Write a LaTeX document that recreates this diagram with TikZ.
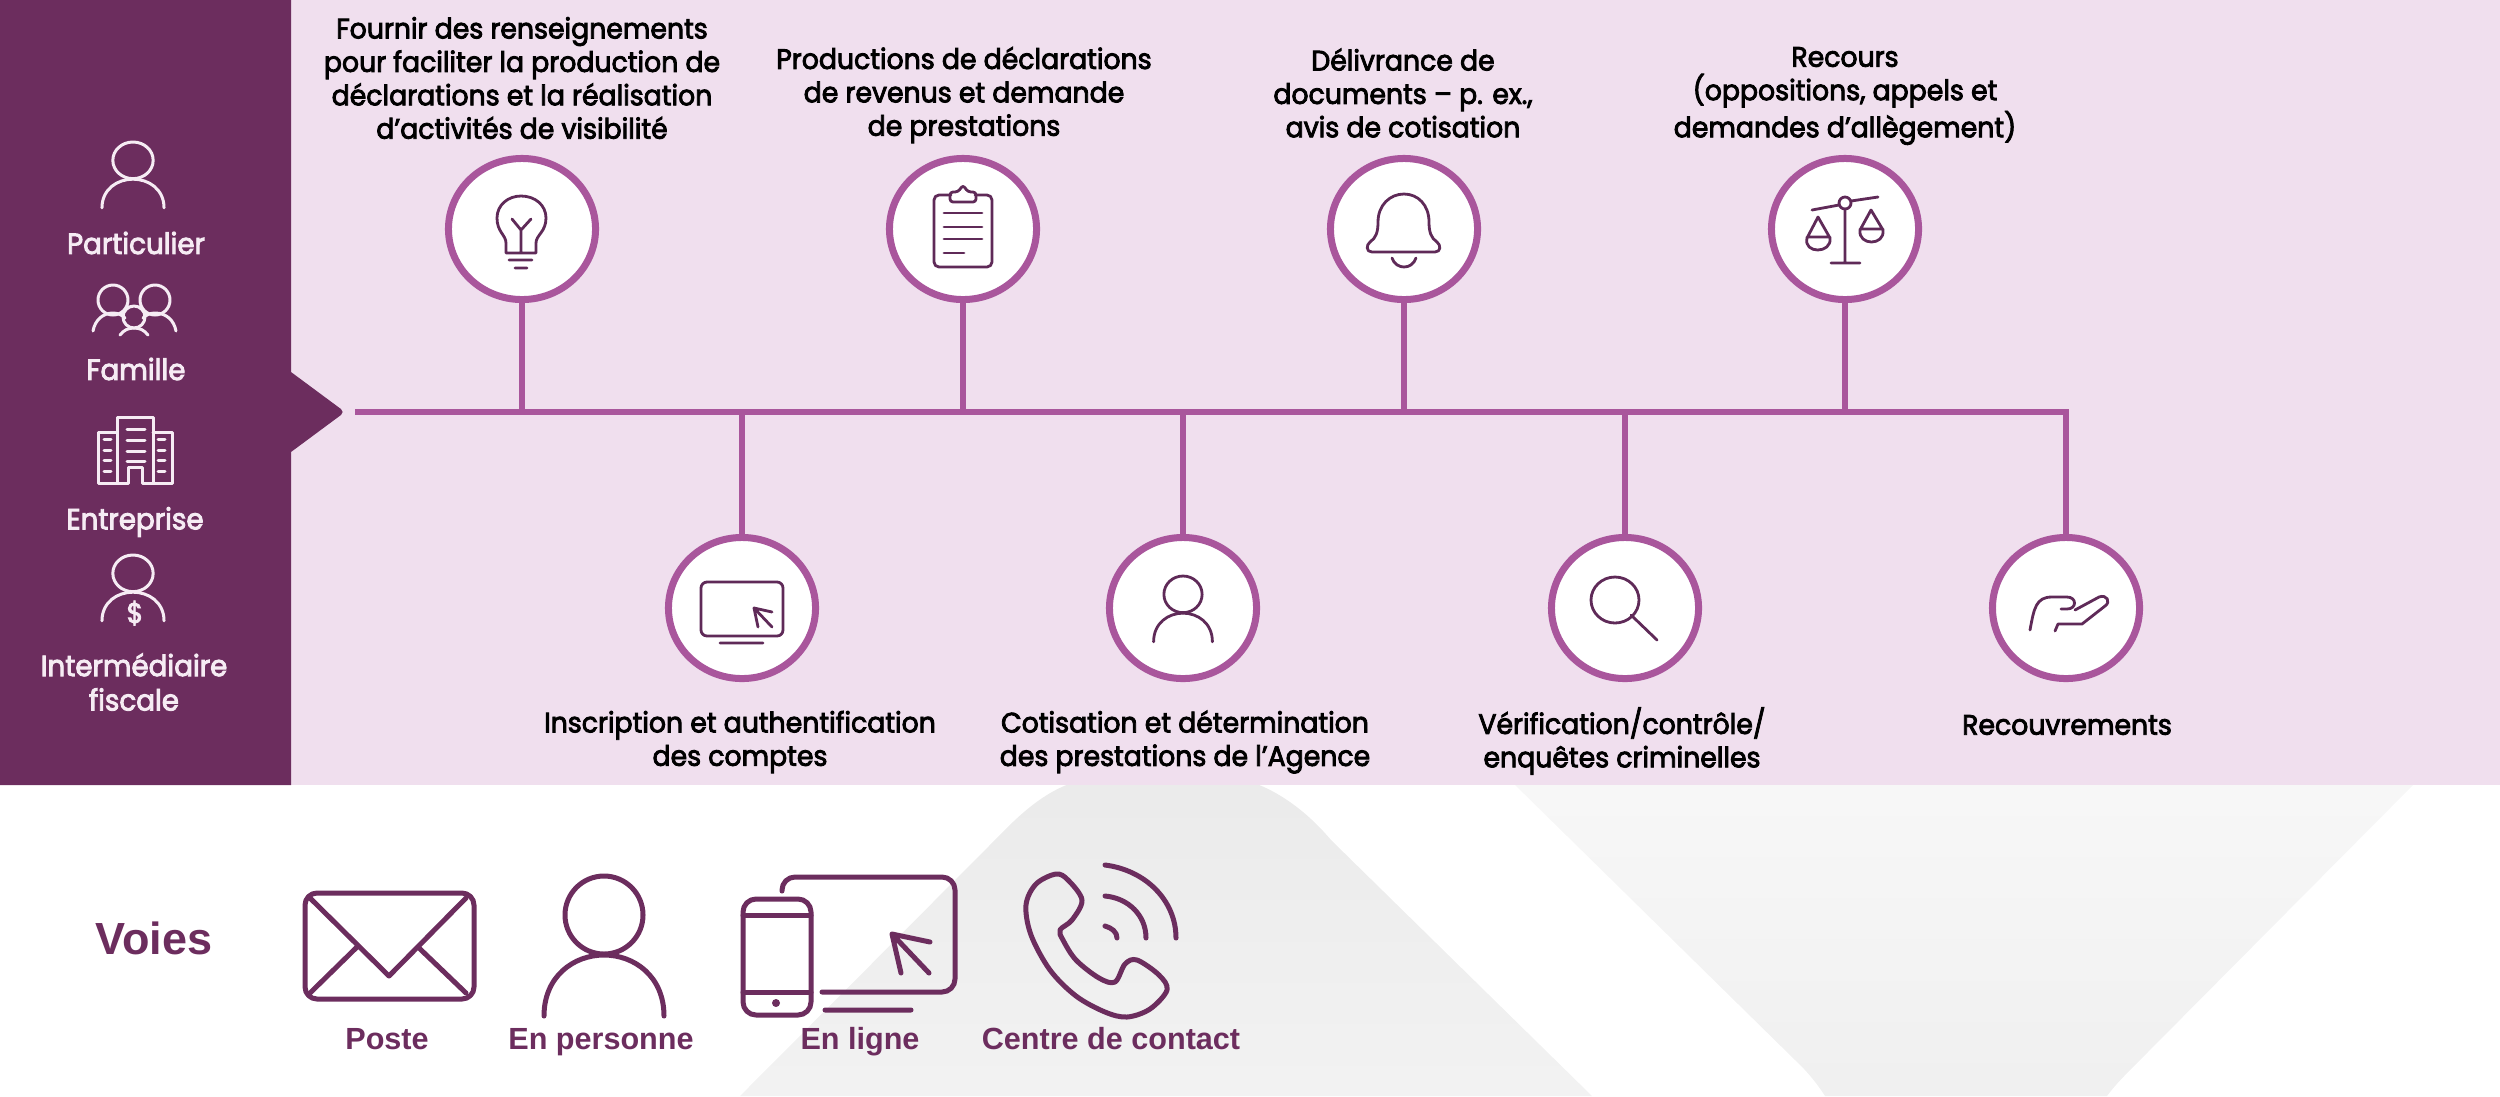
\documentclass[tikz,border=0pt]{standalone}
\usepackage{fontspec}
\setmainfont{Poppins}[FakeStretch=0.95,FakeBold=3]
\newfontfamily\labelfont{Liberation Sans}[BoldFont={Liberation Sans Bold}]
\usetikzlibrary{shapes.geometric}
\definecolor{panelcol}{HTML}{6C2D5E}
\definecolor{bandcol}{HTML}{F0DFEE}
\definecolor{linecol}{HTML}{A9569C}
\definecolor{inkcol}{HTML}{5F2A58}
\definecolor{softwhite}{HTML}{F6ECF4}
\tikzset{
  stepring/.style={ellipse,draw=linecol,fill=white,line width=0.07cm,minimum width=1.47cm,minimum height=1.41cm,inner sep=0pt},
  spine/.style={draw=linecol,line width=0.065cm},
  steptext/.style={font=\fontsize{8}{9.5}\selectfont,align=center,text=black,inner sep=0pt},
  clienttext/.style={font=\fontsize{8.3}{9.8}\selectfont,align=center,text=softwhite,inner sep=0pt},
  channeltext/.style={font=\labelfont\bfseries\fontsize{8.7}{10}\selectfont,text=panelcol,inner sep=0pt,anchor=base},
  lighticon/.style={draw=softwhite,line width=0.03cm,line cap=round,line join=round},
  darkicon/.style={draw=inkcol,line width=0.028cm,line cap=round,line join=round},
  bigicon/.style={draw=panelcol,line width=0.05cm,line cap=round,line join=round},
  personicon/.pic={
    \draw (0,39) ellipse (39 and 39);
    \draw (-60,140) .. controls (-60,100) and (-30,79) .. (0,79) .. controls (30,79) and (60,100) .. (60,140);
  }
}
\begin{document}
\begin{tikzpicture}[x=0.01cm,y=-0.01cm]
 \useasboundingbox (0,0) rectangle (2500,1096);

 \shade[top color=black!8,bottom color=black!5] (740,1096) -- (985,850) .. controls (1010,825) and (1040,790) .. (1082,780) -- (1245,780) .. controls (1280,790) and (1310,815) .. (1331,840) -- (1592,1096) -- cycle;
 \shade[top color=black!3,bottom color=black!6] (1510,780) -- (2418,780) -- (2140,1060) .. controls (2125,1075) and (2115,1085) .. (2107,1096) -- (1825,1096) .. controls (1818,1085) and (1808,1072) .. (1795,1060) -- cycle;
 \fill[bandcol] (291,0) rectangle (2500,785);
 \fill[panelcol] (0,0) -- (291,0) -- (291,372) [rounded corners=0.05cm] -- (345,412) [sharp corners] -- (291,452) -- (291,785) -- (0,785) -- cycle;

 \coordinate (start) at (355,412);
 \node[stepring] (info) at (522,229) {};
 \node[stepring] (prod) at (963,229) {};
 \node[stepring] (doc) at (1404,229) {};
 \node[stepring] (rec) at (1845,229) {};
 \node[stepring] (insc) at (742,608) {};
 \node[stepring] (cot) at (1183,608) {};
 \node[stepring] (ver) at (1625,608) {};
 \node[stepring] (recv) at (2066,608) {};
 \draw[spine] (start) -- (recv |- start) -- (recv);
 \foreach \n in {info,prod,doc,rec,insc,cot,ver}
  \draw[spine] (\n) -- (\n |- start);

 \node[steptext] (infot) at (522,78) {Fournir des renseignements\\pour faciliter la production de\\déclarations et la réalisation\\d’activités de visibilité};
 \node[steptext] (prodt) at (964,95) {Productions de déclarations\\de revenus et demande\\de prestations};
 \node[steptext] (doct) at (1403,93) {Délivrance de\\documents – p. ex.,\\avis de cotisation};
 \node[steptext] (rect) at (1845,96) {Recours\\(oppositions, appels et\\demandes d’allègement)};
 \node[steptext] (insct) at (740,742) {Inscription et authentification\\des comptes};
 \node[steptext] (cott) at (1185,742) {Cotisation et détermination\\des prestations de l’Agence};
 \node[steptext] (vert) at (1622,741) {Vérification/contrôle/\\enquêtes criminelles};
 \node[steptext] (recvt) at (2067,725) {Recouvrements};

 \draw[darkicon] (506,253) -- (506,243) .. controls (506,235) and (497,232) .. (497,218) .. controls (497,205) and (508,196) .. (521,196) .. controls (535,196) and (546,205) .. (546,218) .. controls (546,232) and (536,235) .. (536,243) -- (536,253) -- cycle
 (512,219) -- (521,230) -- (531,219) (521,230) -- (521,253)
 (509,260) -- (532,260) (515,268) -- (527,268);
 \draw[darkicon,rounded corners=0.05cm] (951,195) -- (934,195) -- (934,267) -- (992,267) -- (992,195) -- (975,195);
 \draw[darkicon,rounded corners=0.03cm] (950,202) -- (950,192) -- (958,192) -- (963,185) -- (968,192) -- (976,192) -- (976,202) -- cycle;
 \draw[darkicon] (944,213) -- (982,213) (944,227) -- (982,227) (944,239) -- (982,239) (944,253) -- (964,253);
 \draw[darkicon] (1372,252) .. controls (1366,252) and (1366,245) .. (1370,242) .. controls (1376,238) and (1378,232) .. (1378,222) .. controls (1378,205) and (1390,194) .. (1404,194) .. controls (1418,194) and (1429,205) .. (1429,222) .. controls (1429,232) and (1431,238) .. (1437,242) .. controls (1441,245) and (1441,252) .. (1435,252) -- cycle
 (1392,258) .. controls (1396,270) and (1412,270) .. (1416,258);
 \draw[darkicon] (1812,210) -- (1839,205) (1851,201) -- (1878,197)
 (1845,209) -- (1845,263) (1831,263) -- (1860,263);
 \draw[darkicon] (1845,203) circle (6);
 \draw[darkicon] (1818,217) -- (1807,238) .. controls (1803,254) and (1832,254) .. (1830,238) -- cycle (1807,237) -- (1830,237);
 \draw[darkicon] (1871,210) -- (1860,230) .. controls (1858,246) and (1885,246) .. (1883,230) -- cycle (1860,229) -- (1883,229);
 \draw[darkicon,rounded corners=0.06cm] (701,582) rectangle (783,636);
 \draw[darkicon] (720,643) -- (763,643) (754,608) -- (772,627) (772,612) -- (754,608) -- (758,627);
 \pic[darkicon,xscale=0.49,yscale=0.47] at (1183,576) {personicon};
 \draw[darkicon] (1615,600) ellipse (24 and 23) (1631,615) -- (1657,640);
 \draw[darkicon] (2030,630) .. controls (2034,608) and (2036,597) .. (2052,597) -- (2067,597) .. controls (2077,597) and (2077,609) .. (2067,609) -- (2061,609)
 (2075,610) -- (2099,597) .. controls (2107,594) and (2111,602) .. (2105,606) -- (2082,624) -- (2058,624) -- (2055,631);

 \pic[lighticon,xscale=0.517,yscale=0.47] at (133,142) {personicon};
 \node[clienttext] (part) at (136,243) {Particulier};
 \draw[lighticon] (113,300) circle (15) (155,300) circle (15) (134,317) circle (11);
 \draw[lighticon] (93,331) .. controls (95,320) and (103,313) .. (113,313) .. controls (118,313) and (122,315) .. (125,318)
 (176,331) .. controls (174,320) and (166,313) .. (155,313) .. controls (150,313) and (146,315) .. (143,318)
 (120,335) .. controls (124,330) and (128,328) .. (134,328) .. controls (140,328) and (144,330) .. (148,335);
 \node[clienttext] (fam) at (136,369) {Famille};
 \draw[lighticon] (117,483) -- (117,417) -- (153,417) -- (153,483) -- (142,483) -- (142,467) -- (128,467) -- (128,483) -- cycle
 (117,432) -- (98,432) -- (98,483) -- (117,483)
 (153,432) -- (172,432) -- (172,483) -- (153,483);
 \foreach \y in {429,440,451,461}
  \draw[lighticon] (127,\y) -- (145,\y);
 \foreach \y in {439,450,460,471}
  \draw[lighticon] (104,\y) -- (111,\y) (158,\y) -- (165,\y);
 \node[clienttext] (ent) at (135,522) {Entreprise};
 \pic[lighticon,xscale=0.517,yscale=0.47] at (133,555) {personicon};
 \node[clienttext,font=\fontsize{8}{9}\selectfont] (dollar) at (135,613) {\$};
 \node[clienttext] (inter) at (134,682) {Intermédiaire\\fiscale};

 \node[channeltext,font=\labelfont\bfseries\fontsize{12.8}{14}\selectfont] (voies) at (154,954) {Voies};
 \draw[bigicon,rounded corners=0.12cm] (305,893) rectangle (474,999);
 \draw[bigicon] (310,898) -- (389,976) -- (466,898) (310,993) -- (357,947) (466,993) -- (418,947);
 \node[channeltext] (poste) at (387,1049) {Poste};
 \pic[bigicon] at (604,876) {personicon};
 \node[channeltext] (pers) at (601,1049) {En personne};
 \draw[bigicon,rounded corners=0.13cm] (743,899) rectangle (811,1015);
 \draw[bigicon] (743,915) -- (811,915) (743,992) -- (811,992);
 \fill[panelcol] (776,1003) circle (4);
 \draw[bigicon,rounded corners=0.13cm] (782,891) -- (782,877) -- (955,877) -- (955,992) -- (822,992);
 \draw[bigicon] (825,1010) -- (911,1010) (892,934) -- (929,973) (930,942) -- (892,934) -- (901,973);
 \node[channeltext] (ligne) at (860,1049) {En ligne};
 \draw[bigicon] plot[smooth cycle,tension=0.55] coordinates {(1056,874) (1036,884) (1026,905) (1031,935) (1050,970) (1076,996) (1105,1012) (1127,1017) (1150,1009) (1167,990) (1159,975) (1137,960) (1125,964) (1115,982) (1099,978) (1076,960) (1063,940) (1060,930) (1072,920) (1082,900) (1068,880)};
 \draw[bigicon] (1105,865) .. controls (1145,870) and (1176,900) .. (1176,938)
 (1105,896) .. controls (1128,898) and (1146,915) .. (1146,938)
 (1105,926) .. controls (1112,928) and (1117,932) .. (1117,938);
 \node[channeltext] (contact) at (1111,1049) {Centre de contact};
\end{tikzpicture}
\end{document}
